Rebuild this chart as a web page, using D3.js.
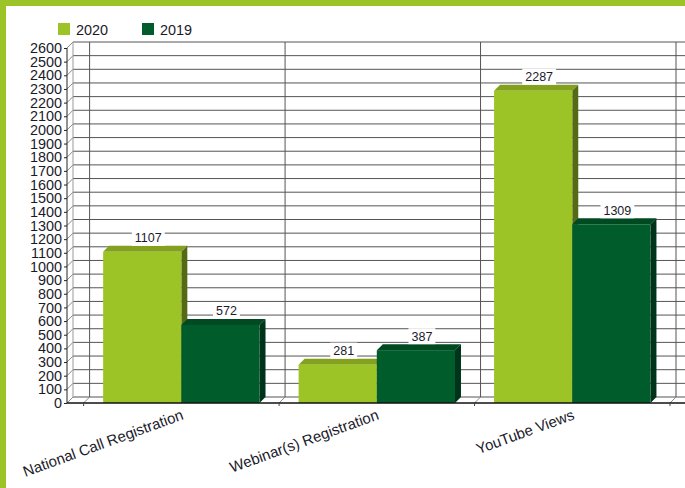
<!DOCTYPE html>
<html>
<head>
<meta charset="utf-8">
<script src="https://cdn.jsdelivr.net/npm/d3@7"></script>
<style>
  html, body { margin: 0; padding: 0; background: #fff; overflow: hidden; }
  text { font-family: "Liberation Sans", Arial, sans-serif; fill: #1a1a2a; }
</style>
</head>
<body>
<svg id="chart"></svg>
<script>
const width = 685;
const height = 488;

const categories = ["National Call Registration", "Webinar(s) Registration", "YouTube Views"];
const seriesNames = ["2020", "2019"];
const values2020 = [1107, 281, 2287];
const values2019 = [572, 387, 1309];
const yTicks = d3.range(0, 2700, 100);

const colors = {
  "2020": { front: "#9dc426", top: "#83a11f", side: "#556a14" },
  "2019": { front: "#005c2b", top: "#004a22", side: "#00341a" }
};
const borderColor = "#9dc426";

// 3d offset of the back wall
const depth = 6;
const plotLeft = 67;
const plotRight = 685;
const plotBottom = 403;
const plotTop = 48;

const svg = d3.select("#chart").attr("width", width).attr("height", height);

// Page frame
svg.append("rect").attr("width", width).attr("height", 6).attr("fill", borderColor);
svg.append("rect").attr("width", 6).attr("height", height).attr("fill", borderColor);

// Scales
const x = d3.scaleBand()
  .domain(categories)
  .range([83.6, 670])
  .paddingInner(0.2)
  .paddingOuter(0.1);

const xSeries = d3.scaleBand()
  .domain(seriesNames)
  .range([0, x.bandwidth()]);

const y = d3.scaleLinear()
  .domain([0, 2600])
  .range([plotBottom, plotTop]);

// Category boundaries, one past the last band
const boundaries = d3.range(categories.length + 1).map(i => x.range()[0] + i * x.step());

// Grid on the back wall and left wall
const grid = svg.append("g").attr("fill", "none").attr("stroke", "#555").attr("stroke-width", 1);

grid.selectAll(".h-line")
  .data(yTicks)
  .join("line")
  .attr("x1", plotLeft + depth)
  .attr("x2", plotRight)
  .attr("y1", d => y(d) - depth)
  .attr("y2", d => y(d) - depth);

grid.selectAll(".wall-line")
  .data(yTicks)
  .join("line")
  .attr("stroke", "#888")
  .attr("x1", plotLeft)
  .attr("x2", plotLeft + depth)
  .attr("y1", d => y(d))
  .attr("y2", d => y(d) - depth);

grid.append("line")
  .attr("stroke", "#999")
  .attr("x1", plotLeft + depth)
  .attr("x2", plotLeft + depth)
  .attr("y1", y(0) - depth)
  .attr("y2", y(2600) - depth);

grid.selectAll(".v-line")
  .data(boundaries)
  .join("line")
  .attr("x1", d => d + depth)
  .attr("x2", d => d + depth)
  .attr("y1", y(0) - depth)
  .attr("y2", y(2600) - depth);

grid.selectAll(".floor-line")
  .data(boundaries)
  .join("line")
  .attr("stroke", "#888")
  .attr("x1", d => d)
  .attr("x2", d => d + depth)
  .attr("y1", y(0))
  .attr("y2", y(0) - depth);

// Bars
const seriesData = [
  { name: "2020", values: values2020 },
  { name: "2019", values: values2019 }
];

const bars = seriesData.flatMap(s => s.values.map((v, i) => ({
  name: s.name,
  category: categories[i],
  value: v
})));

const barG = svg.append("g")
  .selectAll("g")
  .data(bars)
  .join("g")
  .attr("transform", d => `translate(${x(d.category) + xSeries(d.name)},0)`);

barG.append("path")
  .attr("fill", d => colors[d.name].top)
  .attr("d", d => {
    const w = xSeries.bandwidth();
    const t = y(d.value);
    return `M0,${t}L${depth},${t - depth}H${w + depth}L${w},${t}Z`;
  });

barG.append("path")
  .attr("fill", d => colors[d.name].side)
  .attr("d", d => {
    const w = xSeries.bandwidth();
    const t = y(d.value);
    return `M${w},${t}L${w + depth},${t - depth}V${y(0) - depth}L${w},${y(0)}Z`;
  });

barG.append("rect")
  .attr("y", d => y(d.value))
  .attr("width", xSeries.bandwidth())
  .attr("height", d => y(0) - y(d.value))
  .attr("fill", d => colors[d.name].front);

// Value labels with a white plate behind them
const labelG = barG.append("g")
  .attr("transform", d => `translate(${xSeries.bandwidth() / 2 + depth},${y(d.value) - 14})`);

const labelText = labelG.append("text")
  .attr("text-anchor", "middle")
  .attr("dy", "0.36em")
  .style("font-size", "12.5px")
  .text(d => d.value);

labelG.insert("rect", "text")
  .attr("fill", "#fff")
  .each(function (d, i) {
    const box = labelText.nodes()[i].getBBox();
    d3.select(this)
      .attr("x", box.x - 3)
      .attr("y", -8)
      .attr("width", box.width + 6)
      .attr("height", 16);
  });

// Y axis
const yAxis = d3.axisLeft(y)
  .tickValues(yTicks)
  .tickSize(3)
  .tickPadding(2)
  .tickFormat(d3.format("d"));

const yAxisG = svg.append("g")
  .attr("transform", `translate(${plotLeft},0)`)
  .call(yAxis);

yAxisG.select(".domain").attr("stroke", "#222").attr("d", `M0,${plotTop}V${plotBottom}`);
yAxisG.selectAll(".tick line").attr("stroke", "#222");
yAxisG.selectAll("text").attr("fill", "#1a1a2a").style("font-size", "14.4px");

// X axis line and ticks
svg.append("line")
  .attr("x1", plotLeft)
  .attr("x2", plotRight)
  .attr("y1", y(0))
  .attr("y2", y(0))
  .attr("stroke", "#111")
  .attr("stroke-width", 1.4);

svg.append("g")
  .selectAll("line")
  .data(boundaries)
  .join("line")
  .attr("x1", d => d)
  .attr("x2", d => d)
  .attr("y1", y(0))
  .attr("y2", y(0) + 3)
  .attr("stroke", "#444");

// Rotated category labels
svg.append("g")
  .selectAll("text")
  .data(categories)
  .join("text")
  .attr("text-anchor", "end")
  .attr("transform", d => `translate(${x(d) + x.bandwidth() / 2 + 3},419) rotate(-20)`)
  .style("font-size", "15px")
  .text(d => d);

// Legend
const legendX = d3.scalePoint().domain(seriesNames).range([58, 142]);

const legend = svg.append("g")
  .selectAll("g")
  .data(seriesNames)
  .join("g")
  .attr("transform", d => `translate(${legendX(d)},23)`);

legend.append("rect")
  .attr("width", 12)
  .attr("height", 12)
  .attr("fill", d => colors[d].front);

legend.append("text")
  .attr("x", 18)
  .attr("y", 11.5)
  .style("font-size", "14.4px")
  .text(d => d);
</script>
</body>
</html>
